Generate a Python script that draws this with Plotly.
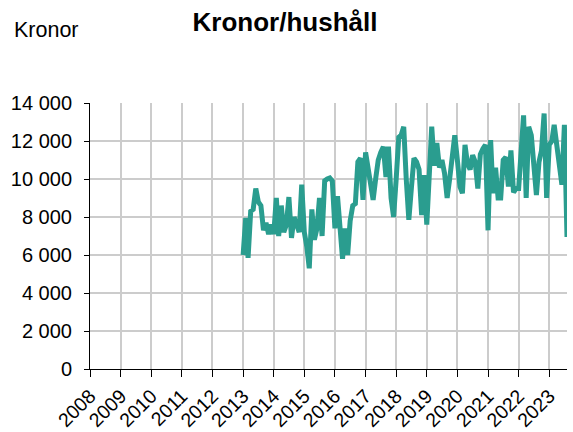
import plotly.graph_objects as go
import pandas as pd

start_month = "2013-01-01"
values = [
    # 2013
    6000, 7950, 5850, 8300, 8400, 9500, 8800, 8600, 7300, 7700, 7100, 7600,
    # 2014
    7100, 9000, 7000, 8600, 7200, 7600, 9050, 6900, 8000, 7600, 7200, 9700,
    # 2015
    7200, 6400, 5300, 8400, 6800, 7400, 9000, 7000, 9900, 10000, 10050, 9900,
    # 2016
    7400, 9100, 7500, 5800, 7400, 6000, 7800, 8600, 8700, 10900, 11100, 8900,
    # 2017
    11400, 10500, 9500, 8900, 10000, 11000, 11400, 11700, 10100, 11700, 9000, 8000,
    # 2018
    10000, 12200, 12300, 12750, 10000, 7850, 9500, 11100, 10900, 10500, 8100, 10200,
    # 2019
    7600, 10000, 12750, 10700, 11900, 10600, 11000, 10300, 9000, 10000, 11000, 12300,
    # 2020
    11000, 9600, 9250, 11800, 10800, 10500, 11250, 10900, 9500, 11300, 11600, 11800,
    # 2021
    7300, 12050, 9250, 10600, 9000, 9000, 11000, 11150, 9600, 11500, 9300, 9500,
    # 2022
    9500, 12000, 13350, 9000, 12750, 12300, 11000, 9150, 10900, 11500, 13450, 9000,
    # 2023
    11800, 12000, 12850, 11800, 10500, 9700, 12850, 6950,
]
dates = pd.date_range(start_month, periods=len(values), freq="MS")

title_text = "Kronor/hushåll"
unit_text = "Kronor"
y_ticks = [0, 2000, 4000, 6000, 8000, 10000, 12000, 14000]

fig = go.Figure()
fig.add_trace(go.Scatter(
    x=dates, y=values, mode="lines",
    line=dict(color="#2a9d8f", width=5),
    hoverinfo="skip",
))

font = "Liberation Sans, Arial, sans-serif"
fig.update_layout(
    width=573, height=432,
    margin=dict(l=90, r=6, t=103, b=63),
    paper_bgcolor="white", plot_bgcolor="white",
    showlegend=False,
    separators=", ",
    font=dict(family=font, size=20, color="black"),
    title=dict(text="<b>" + title_text + "</b>", x=285 / 573, xanchor="center",
               y=1 - 22 / 432, yanchor="middle", font=dict(family=font, size=26, color="black")),
    annotations=[dict(text=unit_text, xref="paper", yref="paper", x=(12 - 90) / 477,
                      y=(369 - 30) / 266,
                      xanchor="left", yanchor="middle", showarrow=False,
                      font=dict(family=font, size=21.5, color="black"))],
)
fig.update_xaxes(
    type="date", range=["2008-01-01", "2023-08-01"], automargin=False,
    tick0="2008-01-01", dtick="M12", tickformat="%Y", tickangle=-45,
    showgrid=True, gridcolor="#cccccc", gridwidth=2,
    showline=True, linecolor="black", linewidth=1,
    ticks="outside", ticklen=7, tickcolor="black",
    tickfont=dict(family=font, size=19.5, color="black"),
    zeroline=False,
)
fig.update_yaxes(
    range=[0, 14000], tickvals=y_ticks, tickformat=",d", automargin=False,
    showgrid=True, gridcolor="#cccccc", gridwidth=2,
    showline=True, linecolor="black", linewidth=1,
    ticks="outside", ticklen=5, tickcolor="black", ticklabelstandoff=8,
    tickfont=dict(family=font, size=20, color="black"),
    zeroline=False,
)
fig.write_html("out.html", config={"displayModeBar": False, "staticPlot": True},
               post_script="document.body.style.margin='0';document.body.style.overflow='hidden';")
